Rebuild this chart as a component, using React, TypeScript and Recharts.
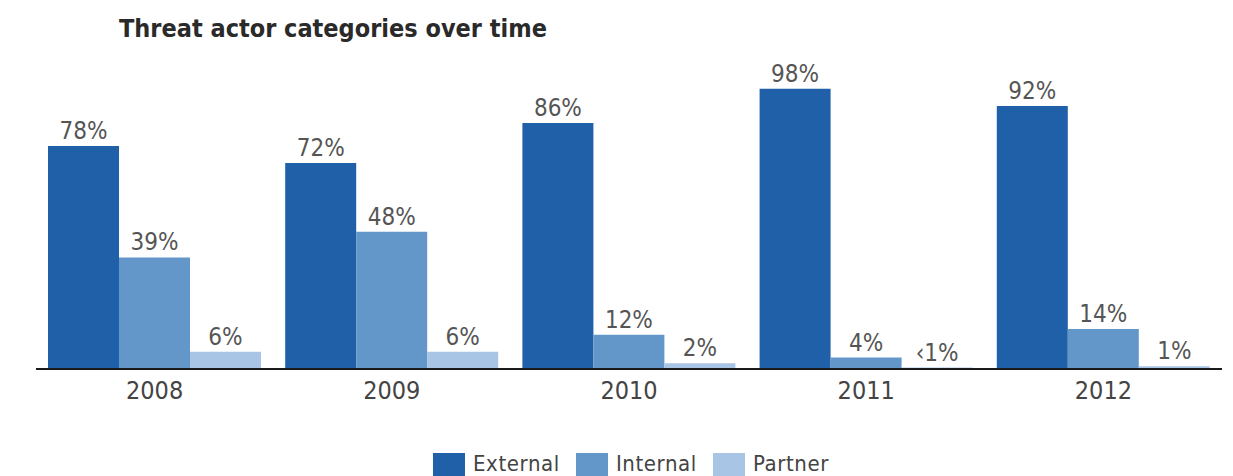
import { Bar, BarChart, LabelList, XAxis, YAxis } from "recharts";

// Threat actor categories over time (% of breaches)
const years = ["2008", "2009", "2010", "2011", "2012"];
const external = [78, 72, 86, 98, 92];
const internal = [39, 48, 12, 4, 14];
const partner = [6, 6, 2, 0.5, 1];
// the printed label for partner 2011 is "<1%", not the number itself
const partnerText = ["6%", "6%", "2%", "‹1%", "1%"];

const series = [
  { key: "external", name: "External", color: "#1f60a8" },
  { key: "internal", name: "Internal", color: "#6396c9" },
  { key: "partner", name: "Partner", color: "#a8c5e5" },
];

const data = years.map((y, i) => ({
  year: y,
  external: external[i],
  internal: internal[i],
  partner: partner[i],
  externalLabel: `${external[i]}%`,
  internalLabel: `${internal[i]}%`,
  partnerLabel: partnerText[i],
}));

const FONT = "'DejaVu Sans Condensed', 'DejaVu Sans', sans-serif";

export default function App() {
  return (
    <div
      style={{
        position: "absolute",
        left: 0,
        top: 0,
        width: 1233,
        height: 476,
        background: "#fff",
        overflow: "hidden",
        fontFamily: FONT,
      }}
    >
      <div
        style={{
          position: "absolute",
          left: 119,
          top: 16,
          fontSize: 25,
          lineHeight: "25px",
          fontWeight: "bold",
          color: "#2a2a2a",
        }}
      >
        Threat actor categories over time
      </div>

      <BarChart
        width={1233}
        height={476}
        data={data}
        margin={{ top: 83, right: 11, left: 36, bottom: 77 }}
        barCategoryGap={12}
        barGap={0}
      >
        <YAxis hide domain={[0, 100]} width={0} />
        <XAxis
          dataKey="year"
          height={30}
          tickLine={false}
          tickMargin={6}
          axisLine={{ stroke: "#1a1a1a", strokeWidth: 2 }}
          tick={{ fill: "#444", fontSize: 25, fontFamily: FONT }}
        />
        {series.map((s) => (
          <Bar key={s.key} dataKey={s.key} fill={s.color} isAnimationActive={false}>
            <LabelList
              dataKey={`${s.key}Label`}
              position="top"
              offset={7}
              fill="#555"
              fontSize={24}
              fontFamily={FONT}
            />
          </Bar>
        ))}
      </BarChart>

      <div
        style={{
          position: "absolute",
          left: 433,
          top: 453,
          display: "flex",
          alignItems: "flex-start",
          fontSize: 22,
          letterSpacing: 0.6,
          color: "#444",
        }}
      >
        {series.map((s) => (
          <div key={s.key} style={{ display: "flex", alignItems: "flex-start", marginRight: 16 }}>
            <div style={{ width: 32, height: 24, background: s.color, marginRight: 8 }} />
            <span style={{ lineHeight: "22px" }}>{s.name}</span>
          </div>
        ))}
      </div>
    </div>
  );
}
